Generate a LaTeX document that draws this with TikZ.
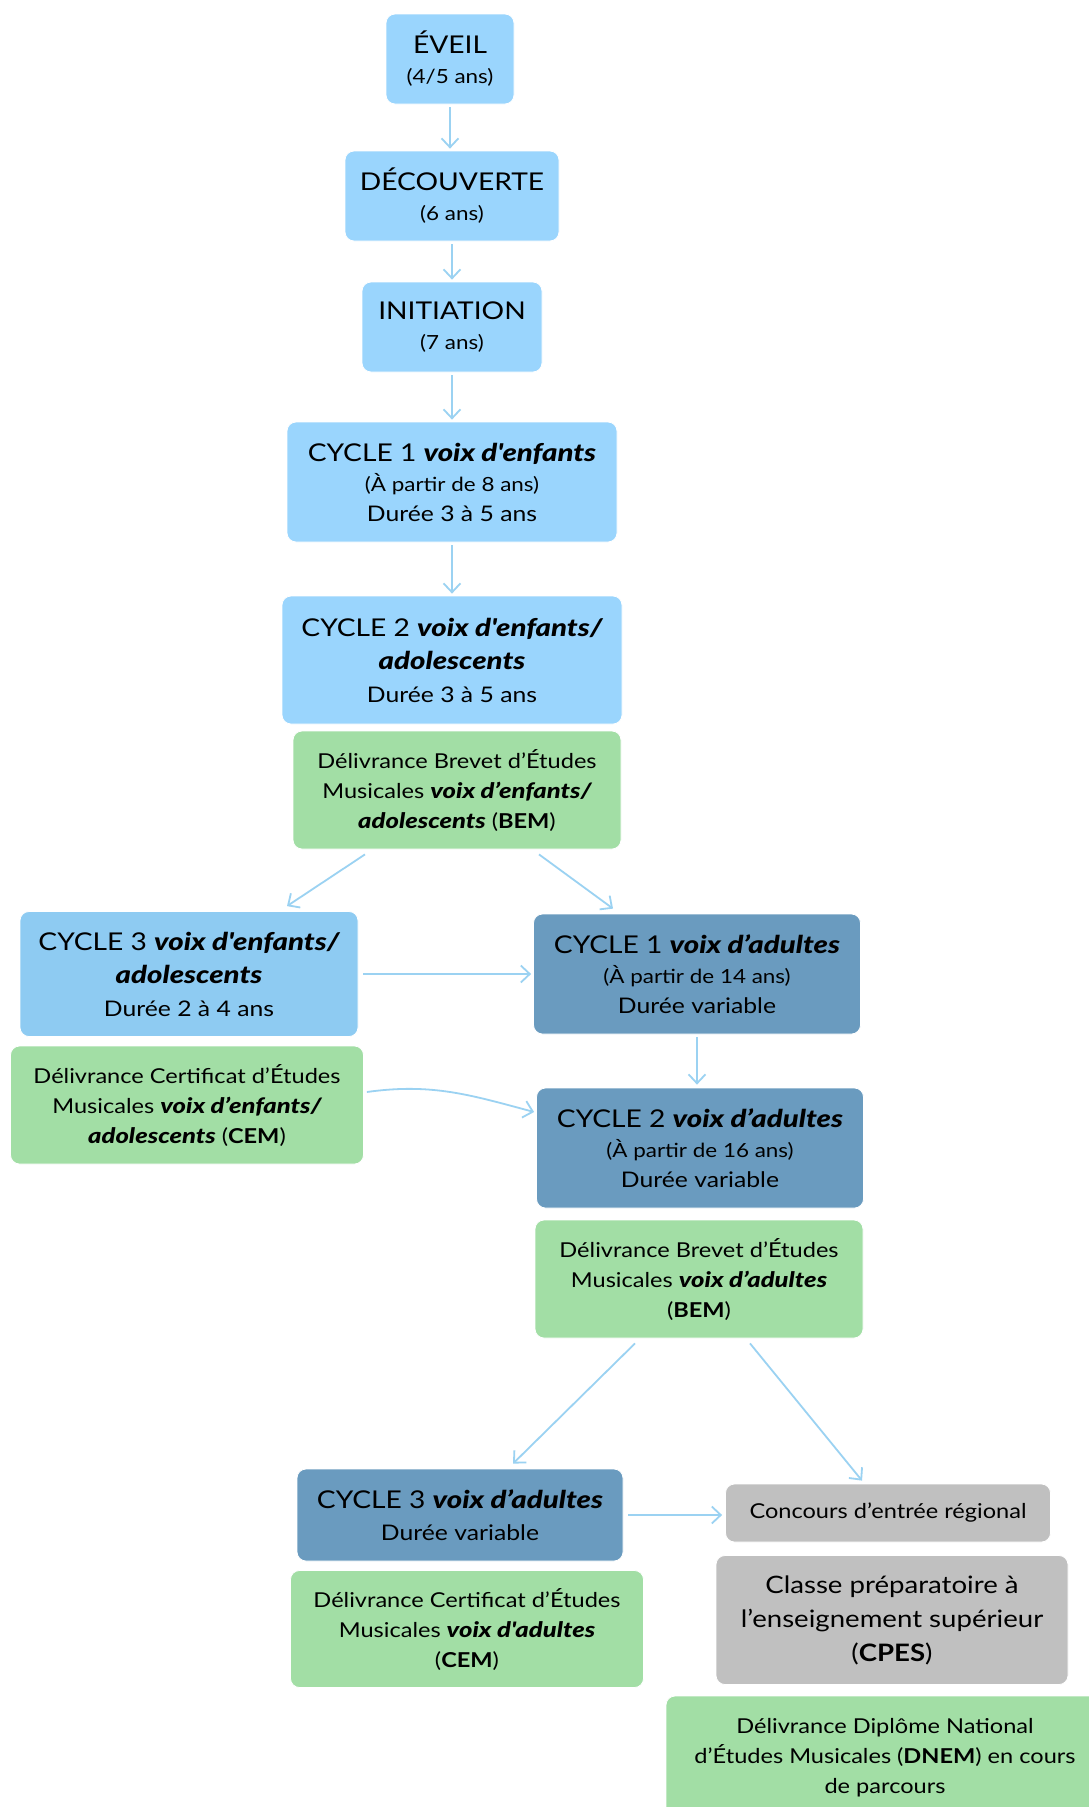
\documentclass[tikz,border=0pt]{standalone}
\usepackage{fontspec}
\setmainfont{Lato}[FakeStretch=1.15]
\newfontface\latoblackit{Lato Black Italic}[FakeStretch=1.2]
\newfontface\latoblackitg{Lato Black Italic}[FakeStretch=1.2, Scale=1.04]
\usetikzlibrary{arrows.meta}
\definecolor{lblue}{HTML}{9AD5FD}
\definecolor{mblue}{HTML}{8ECBF2}
\definecolor{dblue}{HTML}{6A9BBF}
\definecolor{lgreen}{HTML}{A2DEA5}
\definecolor{lgray}{HTML}{C0C0C0}
\definecolor{arr}{HTML}{9BD2F2}
\newcommand\bi[1]{{\latoblackit #1}}
\newcommand\bg[1]{{\latoblackitg #1}}
\newcommand\fsT{\fontsize{24.5}{30}\selectfont}
\newcommand\fsS{\fontsize{19.5}{30}\selectfont}
\newcommand\fsD{\fontsize{21.5}{30}\selectfont}
\begin{document}
\begin{tikzpicture}[x=1pt,y=-1pt,
  box/.style={rounded corners=9pt, align=center, inner sep=0pt, text=black, draw=white, line width=0.8pt},
  wh/.style 2 args={minimum width=#1pt, minimum height=#2pt},
  lightbox/.style={box, fill=lblue, font=\fontsize{21.5}{30}\selectfont},
  midbox/.style={box, fill=mblue, font=\fontsize{21.5}{30}\selectfont},
  darkbox/.style={box, fill=dblue, font=\fontsize{21.5}{30}\selectfont},
  greenbox/.style={box, fill=lgreen, font=\fontsize{20.5}{30}\selectfont},
  graybox/.style={box, fill=lgray, font=\fontsize{20.5}{30}\selectfont},
  conn/.style={draw=arr, line width=1.8pt, -{Straight Barb[length=9pt,width=17pt]}}
]
\clip (0,0) rectangle (1089,1807);
\fill[white] (0,0) rectangle (1089,1807);

\node[lightbox, wh={128}{90}] (eveil) at (450,59) {\fsT ÉVEIL\\ \fsS (4/5 ans)};
\node[lightbox, wh={214}{90}] (dec) at (452,196) {\fsT DÉCOUVERTE\\ \fsS (6 ans)};
\node[lightbox, wh={180}{90}] (init) at (452,327) {\fsT INITIATION\\ \fsS (7 ans)};
\node[lightbox, wh={330}{120}] (c1e) at (452,482) {\fsT CYCLE 1 \bi{voix d\textquotesingle enfants}\\ \fsS (À partir de 8 ans)\\ \fsD Durée 3 à 5 ans};
\node[lightbox, wh={340}{128}] (c2e) at (452,660) {\fsT CYCLE 2 \bi{voix d\textquotesingle enfants/}\\[3pt] \fsT\bi{adolescents}\\[3pt] \fsD Durée 3 à 5 ans};
\node[greenbox, wh={328}{118}] (beme) at (457,790) {Délivrance Brevet d’Études\\ Musicales \bg{voix d’enfants/}\\ \bg{adolescents} (\textbf{BEM})};
\node[midbox, wh={338}{125}] (c3e) at (189,974) {\fsT CYCLE 3 \bi{voix d\textquotesingle enfants/}\\[3pt] \fsT\bi{adolescents}\\[3pt] \fsD Durée 2 à 4 ans};
\node[greenbox, wh={353}{118}] (ceme) at (187,1105) {Délivrance Certificat d’Études\\ Musicales \bg{voix d’enfants/}\\ \bg{adolescents} (\textbf{CEM})};
\node[darkbox, wh={327}{120}] (c1a) at (697,974) {\fsT CYCLE 1 \bi{voix d’adultes}\\ \fsS (À partir de 14 ans)\\ \fsD Durée variable};
\node[darkbox, wh={327}{120}] (c2a) at (700,1148) {\fsT CYCLE 2 \bi{voix d’adultes}\\ \fsS (À partir de 16 ans)\\ \fsD Durée variable};
\node[greenbox, wh={328}{118}] (bema) at (699,1279) {Délivrance Brevet d’Études\\ Musicales \bg{voix d’adultes}\\ (\textbf{BEM})};
\node[darkbox, wh={326}{92}] (c3a) at (460,1515) {\fsT CYCLE 3 \bi{voix d’adultes}\\[2pt] \fsD Durée variable};
\node[graybox, wh={325}{58}] (conc) at (888,1513) {Concours d’entrée régional};
\node[graybox, wh={352}{129}, font=\fontsize{24}{34}\selectfont] (cpes) at (892,1620) {Classe préparatoire à\\ l’enseignement supérieur\\ (\textbf{CPES})};
\node[greenbox, wh={353}{117}] (cema) at (467,1629) {Délivrance Certificat d’Études\\ Musicales \bg{voix d\textquotesingle adultes}\\ (\textbf{CEM})};
\node[greenbox, wh={438}{124}] (dnem) at (885,1758) {Délivrance Diplôme National\\ d’Études Musicales (\textbf{DNEM}) en cours\\ de parcours};

\draw[conn, shorten <=3pt, shorten >=2pt] (eveil.south) -- (eveil.south |- dec.north);
\draw[conn, shorten <=3pt, shorten >=2pt] (dec.south) -- (dec.south |- init.north);
\draw[conn, shorten <=3pt, shorten >=2pt] (init.south) -- (init.south |- c1e.north);
\draw[conn, shorten <=3pt, shorten >=2pt] (c1e.south) -- (c1e.south |- c2e.north);
\draw[conn] ([xshift=-92pt,yshift=-5pt]beme.south) -- ([xshift=98pt,yshift=5pt]c3e.north);
\draw[conn] ([xshift=82pt,yshift=-5pt]beme.south) -- ([xshift=-84pt,yshift=5pt]c1a.north);
\draw[conn, shorten <=5pt, shorten >=2pt] (c3e.east) -- (c1a.west);
\draw[conn] ([xshift=3pt,yshift=13pt]ceme.east) to[out=8,in=165] ([xshift=-2pt,yshift=36pt]c2a.west);
\draw[conn, shorten <=3pt, shorten >=3pt] (c1a.south) -- (c1a.south |- c2a.north);
\draw[conn] ([xshift=-64pt,yshift=-5pt]bema.south) -- ([xshift=53pt,yshift=5pt]c3a.north);
\draw[conn] ([xshift=51pt,yshift=-5pt]bema.south) -- ([xshift=-26pt,yshift=3pt]conc.north);
\draw[conn, shorten <=5pt, shorten >=3pt] (c3a.east) -- (c3a.east -| conc.west);
\end{tikzpicture}
\end{document}
